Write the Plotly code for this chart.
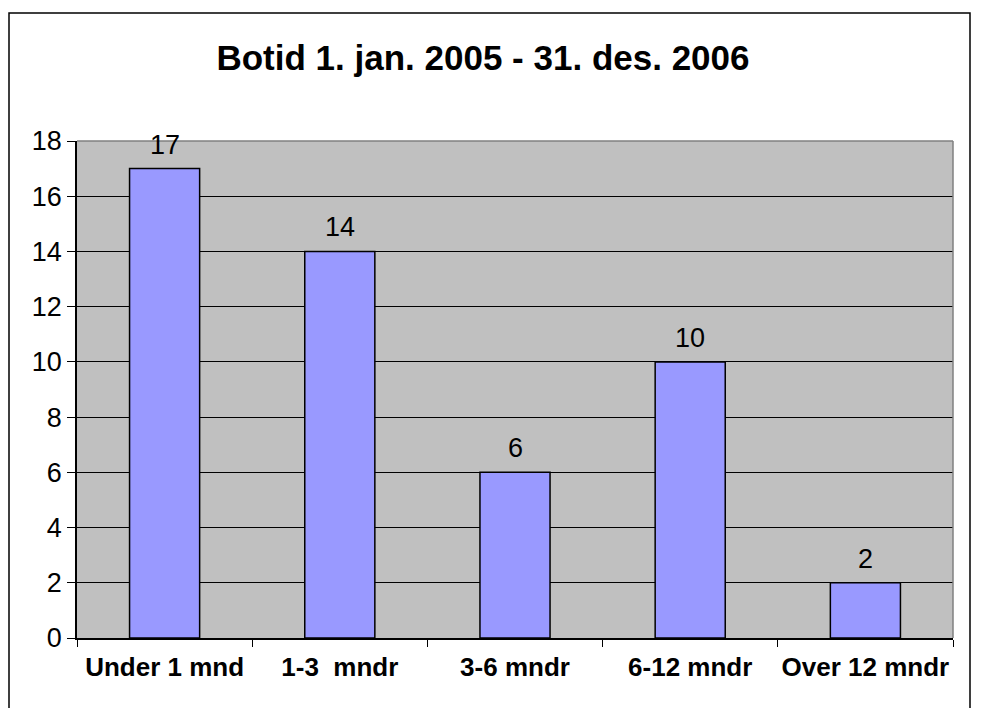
import plotly.graph_objects as go

categories = ["Under 1 mnd", "1-3  mndr", "3-6 mndr", "6-12 mndr", "Over 12 mndr"]
values = [17, 14, 6, 10, 2]
title_text = "Botid 1. jan. 2005 - 31. des. 2006"

W, H = 982, 708
OFF = 8  # page body margin offset
ML, MR, MT, MB = 77 - OFF, 29 + OFF, 141 - OFF, 70 + OFF
PW, PH = W - ML - MR, H - MT - MB

def px_x(x):
    return (x - OFF - ML) / PW

def px_y(y):
    return (H - MB - (y - OFF)) / PH

fig = go.Figure()
fig.add_trace(go.Bar(
    x=categories, y=values,
    marker=dict(color="#9999FF", line=dict(color="black", width=1.5)),
    width=0.4,
    hoverinfo="x+y",
))

for c, v in zip(categories, values):
    fig.add_annotation(x=c, y=v, text=str(v), showarrow=False,
                       yanchor="bottom", yshift=7,
                       font=dict(family="Liberation Sans, Arial", size=27, color="black"))

# plot-area top/right grey border
fig.add_shape(type="line", xref="paper", yref="paper", x0=0, x1=1, y0=1, y1=1,
              line=dict(color="#808080", width=1.5))
fig.add_shape(type="line", xref="paper", yref="paper", x0=1, x1=1, y0=0, y1=1,
              line=dict(color="#808080", width=1.5))
# outer chart border
fig.add_shape(type="rect", xref="paper", yref="paper",
              x0=px_x(9), x1=px_x(970), y0=px_y(730), y1=px_y(13),
              line=dict(color="black", width=1.5), layer="above")

fig.update_layout(
    width=W, height=H,
    margin=dict(l=ML, r=MR, t=MT, b=MB, autoexpand=False),
    paper_bgcolor="white",
    plot_bgcolor="#C0C0C0",
    font=dict(family="Liberation Sans, Arial", color="black"),
    title=dict(text="<b>" + title_text + "</b>", x=(483 - OFF) / W, xref="container",
               xanchor="center", y=1 - (58 - OFF) / H, yref="container", yanchor="middle",
               font=dict(size=35, color="black")),
    showlegend=False,
    bargap=0.6,
    xaxis=dict(
        showline=True, linecolor="black", linewidth=1.5,
        ticks="outside", tickson="boundaries", ticklen=7, tickcolor="black", tickwidth=1,
        tickfont=dict(size=26, family="Liberation Sans, Arial", color="black"),
        tickprefix="<b>", ticksuffix="</b>",
        tickangle=0, automargin=False,
        ticklabelstandoff=5,
        showgrid=False,
    ),
    yaxis=dict(
        range=[0, 18], dtick=2, tick0=0,
        showline=True, linecolor="black", linewidth=1.5,
        ticks="outside", ticklen=8, tickcolor="black", tickwidth=1,
        tickfont=dict(size=27, family="Liberation Sans, Arial", color="black"),
        showgrid=True, gridcolor="black", gridwidth=1,
        zeroline=False, automargin=False,
    ),
)

fig.write_html("out.html")
